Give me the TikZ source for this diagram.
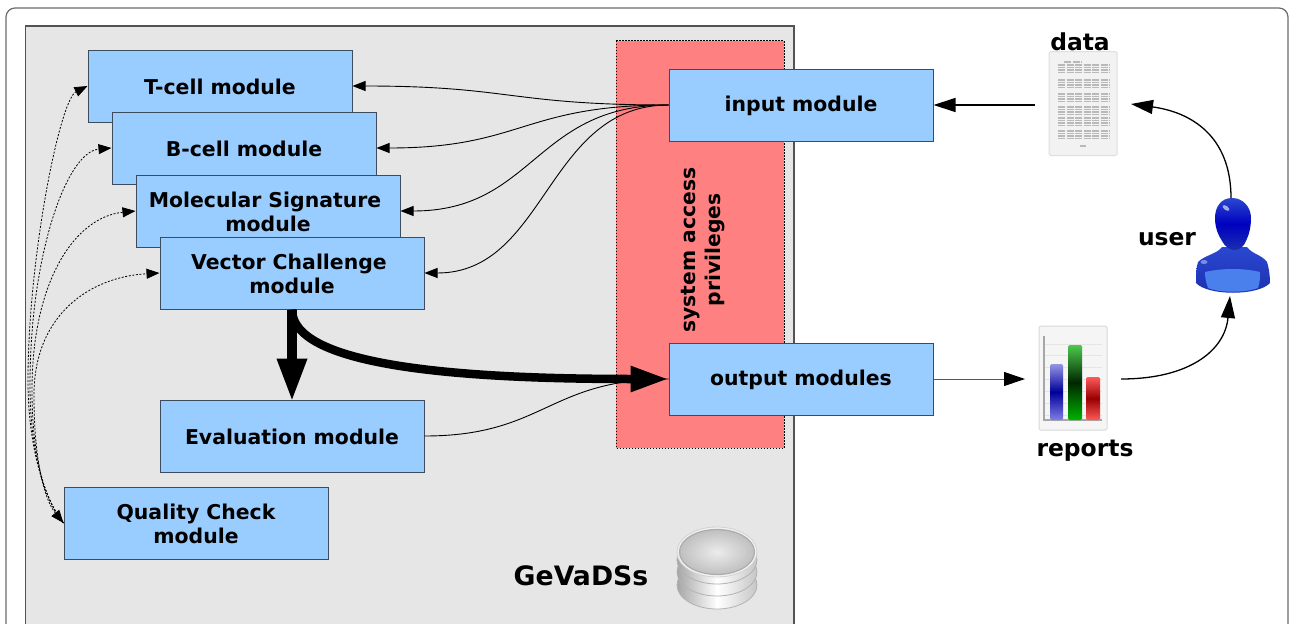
\documentclass[tikz,border=0pt]{standalone}
\usepackage{fontspec}
\setmainfont{DejaVu Sans}
\usetikzlibrary{arrows.meta,calc,shapes.geometric}
\definecolor{boxblue}{HTML}{99CCFF}
\definecolor{boxline}{HTML}{3C4C5C}
\definecolor{panel}{HTML}{E6E6E6}
\definecolor{privred}{HTML}{FF8080}
\definecolor{userdark}{HTML}{1B2FB0}
\definecolor{usermid}{HTML}{2A48D0}
\definecolor{userlite}{HTML}{4A80EC}
\tikzset{
  x=1pt,y=-1pt,
  modbox/.style={draw=boxline,line width=1pt,fill=boxblue,minimum width=264pt,minimum height=72pt,inner sep=0pt},
  modtext/.style={inner sep=0pt,align=center,yshift=-1pt,font=\fontsize{20.4}{24.5}\selectfont\bfseries},
  biglabel/.style={inner sep=0pt,font=\fontsize{23.4}{26}\selectfont\bfseries},
  thinlink/.style={line width=0.9pt,-{Triangle[length=13pt,width=10pt]}},
  dashlink/.style={line width=0.8pt,dash pattern=on 2pt off 1.6pt,-{Triangle[length=13pt,width=10pt]}},
  midlink/.style={line width=1.3pt,-{Triangle[length=22pt,width=14pt]}},
  disc/.style={left color=gray!70,right color=gray!45,middle color=white,draw=gray!60,line width=0.8pt},
  pagerow/.style={draw=gray!55,line width=1.1pt,dash pattern=on 7pt off 1.5pt},
}
\begin{document}
\begin{tikzpicture}
\useasboundingbox (0,0) rectangle (1294,624);
\clip (0,0) rectangle (1294,624);
\fill[white] (0,0) rectangle (1294,624);
\draw[draw=gray!85!black,line width=1.2pt,rounded corners=9pt] (6,8) rectangle (1288,660);
\draw[draw=gray!65!black,fill=panel,line width=1.2pt] (25.5,26) rectangle (794,660);
\draw[black,fill=privred,line width=0.8pt,dash pattern=on 1.6pt off 1.4pt] (616,40.5) rectangle (784,448);

% modules
\node[modbox,label={[modtext]center:T-cell module}] (tc) at (220,86) {};
\node[modbox,label={[modtext]center:B-cell module}] (bc) at (244,148) {};
\node[modbox,label={[modtext]center:{Molecular Signature\hspace*{6pt}\\module}}] (ms) at (268,211) {};
\node[modbox,label={[modtext]center:{Vector Challenge\hspace*{6pt}\\module}}] (vc) at (292,273) {};
\node[modbox,label={[modtext]center:Evaluation module}] (ev) at (292,436) {};
\node[modbox,label={[modtext]center:{Quality Check\\module}}] (qc) at (196,523) {};
\node[modbox,label={[modtext]center:input module}] (in) at (801,105) {};
\node[modbox,label={[modtext]center:output modules}] (out) at (801,379) {};

\node[rotate=90,inner sep=0pt,align=center,font=\fontsize{20.3}{25}\selectfont\bfseries] (priv) at (703,250) {system access\\privileges};
\node[inner sep=0pt,font=\fontsize{26.7}{30}\selectfont\bfseries] (gv) at (581,576) {GeVaDSs};

% data page icon
\node[draw=gray!25,fill=gray!10,line width=1pt,rounded corners=1.5pt,minimum width=68pt,minimum height=104pt,inner sep=0pt] (dataicon) at (1083,103.5) {};
\foreach \yy in {65,67.5,70,72.5,80,82.5,85,87.5,94,96.5,99,101.5,107,109.5,112,114.5,118,120.5,123,125.5,131,133.5,136,138.5}
  \draw[pagerow] (1058,\yy) -- (1110,\yy);
\draw[pagerow] (1064,62) -- (1082,62);
\draw[draw=gray!55,line width=1.1pt] (1080,146) -- (1086,146);
\node[biglabel] (datalab) at (1080,42) {data};

% report icon
\node[draw=gray!30,fill=gray!8,line width=1pt,rounded corners=1.5pt,minimum width=68pt,minimum height=104pt,inner sep=0pt] (repicon) at (1073,378) {};
\foreach \yy in {344,355,367,379,391,403,415}
  \draw[gray!20,line width=0.6pt] (1045,\yy) -- (1102,\yy);
\draw[gray!70,line width=1.2pt] (1044,336) -- (1044,420) -- (1102,420);
\shade[rounded corners=1.5pt,top color=blue!35!white!90!black,bottom color=blue!45!white!90!black,middle color=blue!60!black] (1050,364) rectangle (1063,420);
\shade[rounded corners=1.5pt,top color=green!70!black!70,bottom color=green!70!black,middle color=black!85!green] (1068,345) rectangle (1082,420);
\shade[rounded corners=1.5pt,top color=red!65,bottom color=red!65,middle color=red!60!black] (1086,377) rectangle (1100,420);
\node[biglabel] (replab) at (1085,451) {reports};

% user icon
\shade[top color=usermid,bottom color=userdark]
  (1198,262) .. controls (1205,255) and (1217,254) .. (1222,247)
  -- (1247,247) .. controls (1252,254) and (1262,255) .. (1267,262)
  .. controls (1269,268) and (1270,276) .. (1270,283)
  .. controls (1258,296) and (1208,296) .. (1196,283)
  .. controls (1196,276) and (1196,268) .. (1198,262) -- cycle;
\fill[userlite] (1205,272) .. controls (1222,268) and (1244,268) .. (1260,272)
  .. controls (1260,278) and (1260,282) .. (1258,288)
  .. controls (1245,293) and (1220,293) .. (1208,288)
  .. controls (1206,282) and (1205,278) .. (1205,272) -- cycle;
\shade[top color=usermid,bottom color=userdark,middle color=blue!75!black]
  (1232,198) .. controls (1221,198) and (1215,207) .. (1215,218)
  .. controls (1215,229) and (1219,236) .. (1222,241)
  .. controls (1225,247) and (1230,250) .. (1235,250)
  .. controls (1240,250) and (1244,246) .. (1246,241)
  .. controls (1249,235) and (1251,227) .. (1251,218)
  .. controls (1251,207) and (1243,198) .. (1232,198) -- cycle;
\fill[white,opacity=0.6,rotate around={-35:(1226,208)}] (1226,208) ellipse (4 and 2);
\fill[white,opacity=0.4] (1204,262) ellipse (3.5 and 2);

\node[biglabel] (userlab) at (1167,239) {user};

% database icon
\foreach \cy in {585,572,560}
  \draw[disc] (717,\cy) ellipse (40 and 24);
\draw[draw=gray!35,fill=white!90!gray,line width=0.8pt] (717,552) ellipse (40 and 25);
\shade[inner color=gray!15,outer color=gray!50,draw=gray!65,line width=1.2pt] (717,552) ellipse (37.5 and 22.5);

% connector ends beside the icons
\coordinate (datain) at (1035,105);
\coordinate (dataout) at (1131,104);
\coordinate (repin) at (1025,379);
\coordinate (repout) at (1121,379);
\coordinate (userup) at (1231,198);
\coordinate (userdn) at (1230,296);

% input module to the four modules
\draw[thinlink] (in.west) .. controls +(-158,0) and +(158,0) .. (tc.east);
\draw[thinlink] (in.west) .. controls +(-146,0) and +(146,0) .. (bc.east);
\draw[thinlink] (in.west) .. controls +(-134,0) and +(134,0) .. (ms.east);
\draw[thinlink] (in.west) .. controls +(-122,0) and +(122,0) .. (vc.east);

% quality check links
\coordinate (h1) at (28,380);
\coordinate (h2) at (30,385);
\coordinate (h3) at (32,390);
\coordinate (h4) at (34,395);
\draw[dashlink] (qc.west) .. controls +(-18,-22) and +(0,70) .. (h1) .. controls +(0,-120) and +(-28,14) .. (tc.west);
\draw[dashlink] (qc.west) .. controls +(-18,-22) and +(0,70) .. (h2) .. controls +(0,-130) and +(-45,4) .. (bc.west);
\draw[dashlink] (qc.west) .. controls +(-18,-22) and +(0,70) .. (h3) .. controls +(0,-110) and +(-60,6) .. (ms.west);
\draw[dashlink,{Triangle[length=13pt,width=10pt]}-{Triangle[length=13pt,width=10pt]}] (qc.west) .. controls +(-18,-22) and +(0,70) .. (h4) .. controls +(0,-80) and +(-70,4) .. (vc.west);

% heavy flows
\draw[line width=9.5pt,shorten >=-2pt,-{Triangle[length=43pt,width=28pt]}] (vc.south) -- (ev.north);
\draw[line width=8.5pt,-{Triangle[length=38pt,width=24pt]}] (vc.south) .. controls +(0,55) and +(-220,0) .. (out.west);
\draw[line width=0.9pt] (ev.east) .. controls +(120,0) and +(-120,0) .. (out.west);

% right side flows
\draw[midlink] (datain) -- (in.east);
\draw[midlink] (userup) .. controls (1231,135) and (1190,112) .. (dataout);
\draw[draw=gray!70!black,line width=1pt,-{Triangle[length=21pt,width=14pt,black]}] (out.east) -- (repin);
\draw[midlink] (repout) .. controls (1190,379) and (1225,350) .. (userdn);
\end{tikzpicture}
\end{document}
